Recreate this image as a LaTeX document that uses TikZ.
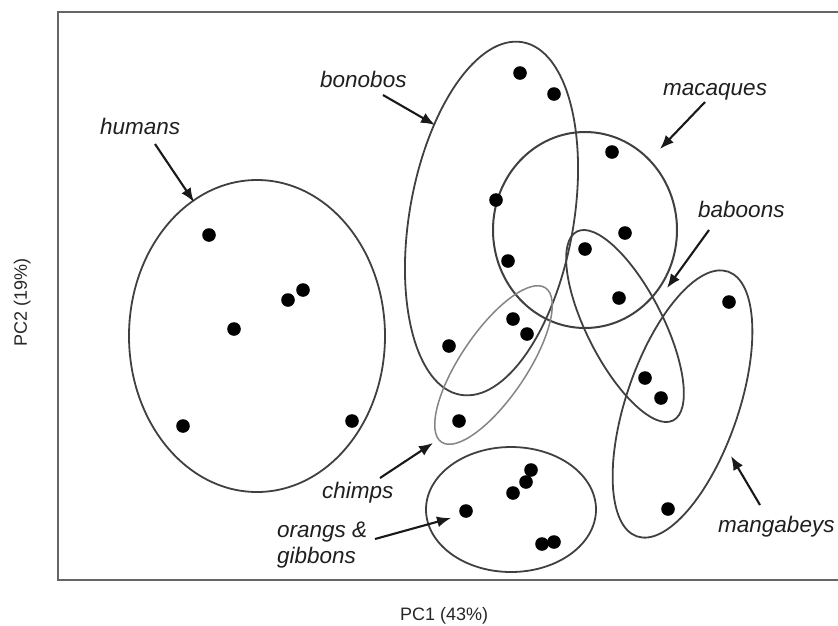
\documentclass[tikz,border=0pt]{standalone}
\usepackage{fontspec}
\setmainfont{Liberation Sans}
\usetikzlibrary{arrows.meta,shapes.geometric}
\begin{document}
\begin{tikzpicture}[x=1pt,y=-1pt,
  lab/.style={font=\fontsize{22.5}{26}\selectfont\itshape, text=black!88, inner sep=0pt, align=left, anchor=base west},
  axislab/.style={font=\fontsize{18}{20}\selectfont, text=black!85, inner sep=0pt, anchor=base west},
  grp/.style={draw=black!75, line width=1.8pt, ellipse, inner sep=0pt},
  lightgrp/.style={draw=black!48, line width=1.5pt, ellipse, inner sep=0pt},
  dot/.style={fill=black},
  arr/.style={-{Latex[length=14pt,width=11pt]}, line width=2.1pt, black!90}
]
\useasboundingbox (0,0) rectangle (838,625);
\clip (0,0) rectangle (838,625);
\fill[white] (0,0) rectangle (838,625);
\draw[black!60, line width=1.6pt] (58,12) rectangle (860,580);

% groups
\node[grp, minimum width=256pt, minimum height=312pt] (humans) at (257,336) {};
\node[grp, minimum width=164pt, minimum height=358pt, rotate=-10] (bonobos) at (491.5,218.5) {};
\node[grp, line width=2pt, minimum width=184pt, minimum height=196pt] (macaques) at (585,230) {};
\node[grp, minimum width=76pt, minimum height=212pt, rotate=27] (baboons) at (625,326) {};
\node[lightgrp, minimum width=66pt, minimum height=186pt, rotate=-34] (chimps) at (493.5,365) {};
\node[grp, minimum width=112pt, minimum height=280pt, rotate=-19] (mangabeys) at (682.5,404) {};
\node[grp, minimum width=170pt, minimum height=125pt] (orangs) at (511,509.5) {};

% data points
\foreach \p in {(209,235),(288,300),(303,290),(234,329),(183,426),(352,421),
  (520,73),(554,94),(612,152),(496,200),(625,233),(585,249),(508,261),(619,298),
  (513,319),(527,334),(449,346),(645,378),(661,398),(459,421),(729,302),(668,509),
  (466,511),(513,493),(526,482),(531,470),(542,544),(554,542)}
  \fill[dot] \p circle[radius=6.8];

% labels
\node[lab] (lhumans) at (100,134) {humans};
\node[lab] (lbonobos) at (320,87) {bonobos};
\node[lab] (lmacaques) at (663,95) {macaques};
\node[lab] (lbaboons) at (698,217) {baboons};
\node[lab] (lchimps) at (322,498) {chimps};
\node[lab] (lorangs) at (277,563) {orangs \&\\gibbons};
\node[lab] (lmangabeys) at (718,532) {mangabeys};
\node[axislab] (xlab) at (400,620) {PC1 (43\%)};
\node[axislab, rotate=90] (ylab) at (27,347) {PC2 (19\%)};

% arrow ends
\coordinate (ahS) at (155,144); \coordinate (ahT) at (194,202);
\coordinate (abS) at (383,95);  \coordinate (abT) at (435,125);
\coordinate (amS) at (705,102); \coordinate (amT) at (660,149);
\coordinate (abaS) at (709,230); \coordinate (abaT) at (667,288);
\coordinate (acS) at (380,478); \coordinate (acT) at (433,443);
\coordinate (aoS) at (375,539); \coordinate (aoT) at (451,518);
\coordinate (amgS) at (760,505); \coordinate (amgT) at (731,456);

\draw[arr] (ahS) -- (ahT);
\draw[arr] (abS) -- (abT);
\draw[arr] (amS) -- (amT);
\draw[arr] (abaS) -- (abaT);
\draw[arr] (acS) -- (acT);
\draw[arr] (aoS) -- (aoT);
\draw[arr] (amgS) -- (amgT);
\end{tikzpicture}
\end{document}
